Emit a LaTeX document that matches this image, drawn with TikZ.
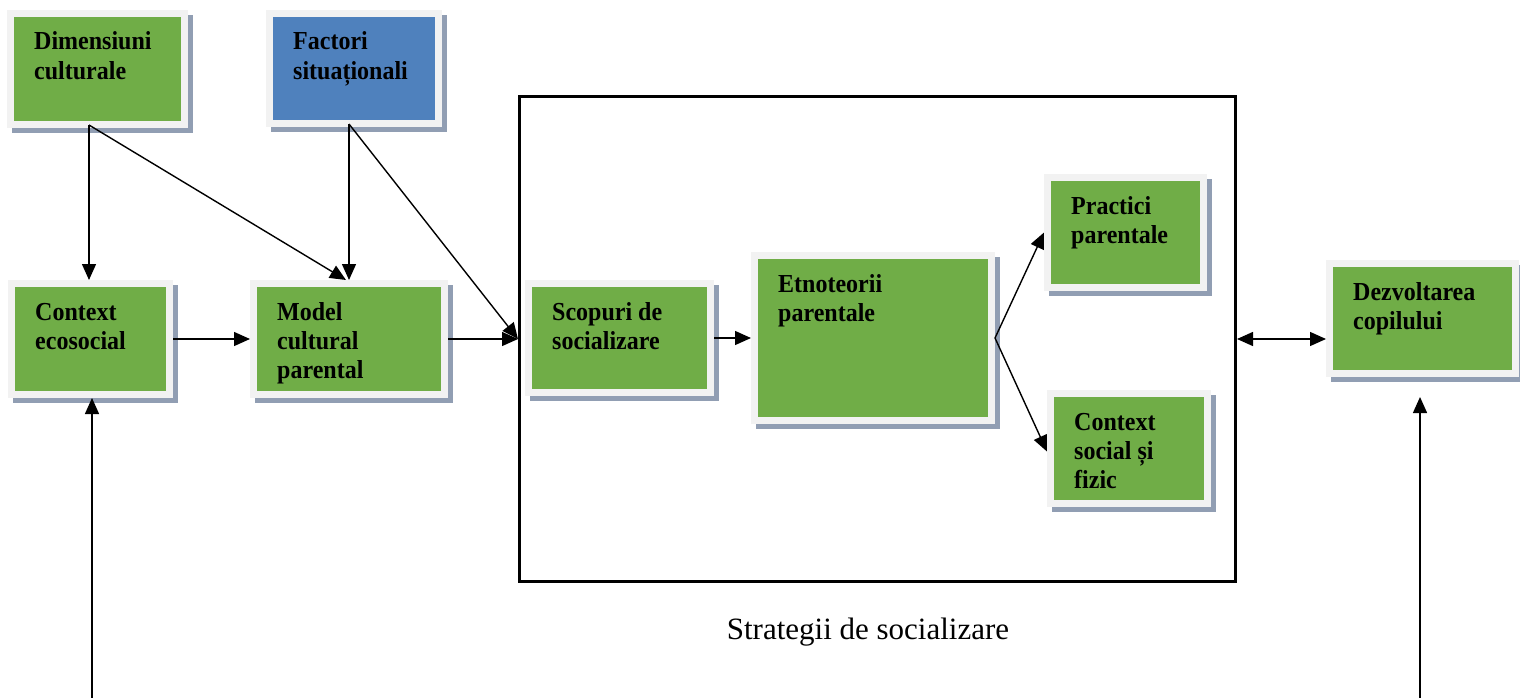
\documentclass[tikz,border=0pt]{standalone}
\usepackage{fontspec}
\usepackage{graphicx}
\setmainfont{Liberation Serif}
\usetikzlibrary{arrows.meta,calc}
\definecolor{boxgreen}{HTML}{70AD47}
\definecolor{boxblue}{HTML}{4F81BD}
\definecolor{framec}{HTML}{F2F2F2}
\definecolor{shadowc}{HTML}{919EB3}
\newcommand\picbox[7]{%
  \fill[shadowc] (#3-2,#4-2) rectangle (#5+12,#6+12);
  \node[outerbox, minimum width={#5-#3+14}, minimum height={#6-#4+14}] (#1) at (#3-7,#4-7) {};
  \node[innerbox, fill=#2, minimum width={#5-#3}, minimum height={#6-#4}] (#1-in) at (#3,#4) {};
  \node[boxtext] (#1-t) at (#3+20,#4+33) {\scalebox{1}[1.08]{\begin{tabular}[t]{@{}l@{}}#7\end{tabular}}};
}
\tikzset{
  outerbox/.style={fill=framec, draw=none, inner sep=0, outer sep=0, anchor=north west},
  innerbox/.style={draw=none, inner sep=0, outer sep=0, anchor=north west},
  boxtext/.style={anchor=base west, inner sep=0, font=\bfseries\fontsize{24}{27.3}\selectfont},
  arr/.style={-{Triangle[length=16pt,width=14pt]}, line width=1.4pt},
  biarr/.style={{Triangle[length=16pt,width=14pt]}-{Triangle[length=16pt,width=14pt]}, line width=1.4pt},
}
\begin{document}
\begin{tikzpicture}[x=1pt,y=-1pt]
\clip (0,0) rectangle (1520,698);
\fill[white] (0,0) rectangle (1520,698);
% big frame
\node[draw, line width=3pt, minimum width=716, minimum height=485, inner sep=0, anchor=north west] (strat) at (518,95) {};
\node[anchor=base, font=\fontsize{31}{36}\selectfont, inner sep=0] (lbl) at (868,639) {Strategii de socializare};
% boxes
\picbox{dim}{boxgreen}{14}{17}{181}{121}{Dimensiuni\\culturale}
\picbox{fac}{boxblue}{273}{17}{435}{120}{Factori\\situaționali}
\picbox{ctx}{boxgreen}{15}{287}{166}{391}{Context\\ecosocial}
\picbox{mod}{boxgreen}{257}{287}{441}{391}{Model\\cultural\\parental}
\picbox{sco}{boxgreen}{532}{287}{707}{389}{Scopuri de\\socializare}
\picbox{etn}{boxgreen}{758}{259}{988}{417}{Etnoteorii\\parentale}
\picbox{pra}{boxgreen}{1051}{181}{1200}{284}{Practici\\parentale}
\picbox{cso}{boxgreen}{1054}{397}{1204}{500}{Context\\social și\\fizic}
\picbox{dez}{boxgreen}{1333}{267}{1512}{370}{Dezvoltarea\\copilului}
% connectors
\coordinate (d1) at ([xshift=-8.5pt,yshift=3pt]dim.south);
\coordinate (f1) at ([xshift=-5pt,yshift=3pt]fac.south);
\draw[arr] (d1) -- (d1 |- ctx.north);
\draw[arr] (d1) -- ([xshift=-3pt]mod.north);
\draw[arr] (f1) -- (f1 |- mod.north);
\draw[arr] (f1) -- (strat.west);
\draw[arr] (ctx.east) -- (mod.west);
\draw[arr] (mod.east) -- (strat.west);
\draw[arr] (sco.east) -- (etn.west);
\draw[arr] (etn.east) -- (pra.west);
\draw[arr] (etn.east) -- ([yshift=-3pt]cso.west);
\draw[biarr] (strat.east) -- (strat.east -| dez.west);
\coordinate (bl) at (92,698);
\draw[arr] (bl) -- (bl |- ctx.south);
\coordinate (br) at (1420,698);
\coordinate (brt) at (1420,397);
\draw[arr] (br) -- (brt);
\end{tikzpicture}
\end{document}
